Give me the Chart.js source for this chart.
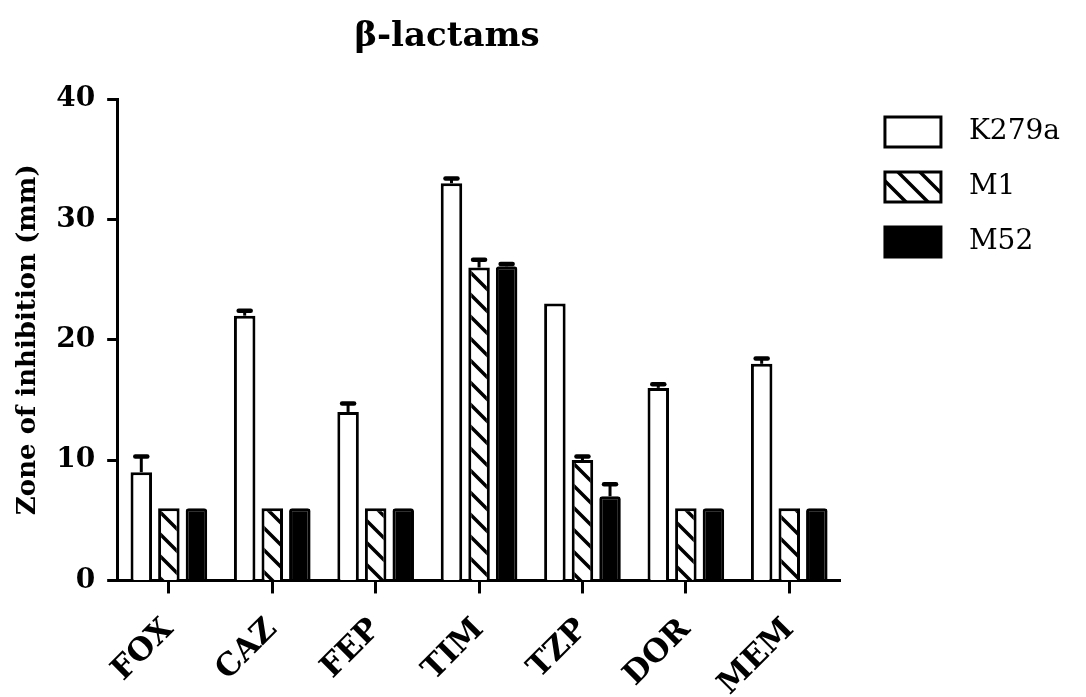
<!DOCTYPE html>
<html><head><meta charset="utf-8">
<script src="https://cdn.jsdelivr.net/npm/chart.js@4.4.1/dist/chart.umd.min.js"></script>
<style>html,body{margin:0;padding:0;background:#fff;}</style>
</head><body>
<canvas id="c" width="1086" height="697"></canvas>
<script>
const categories = ['FOX','CAZ','FEP','TIM','TZP','DOR','MEM'];
const seriesNames = ['K279a','M1','M52'];
const k279a = [9, 22, 14, 33, 23, 16, 18];
const m1    = [6, 6, 6, 26, 10, 6, 6];
const m52   = [6, 6, 6, 26.1, 7, 6, 6];
const k279aErr = [1.3, 0.4, 0.7, 0.4, 0, 0.3, 0.45];
const m1Err    = [0, 0, 0, 0.65, 0.3, 0, 0];
const m52Err   = [0, 0, 0, 0.2, 1.0, 0, 0];
const yTickValues = [0, 10, 20, 30, 40];
const chartTitle = 'β-lactams';
const yTitle = 'Zone of inhibition (mm)';

function hatch(){
  const s = 22, cv = document.createElement('canvas');
  cv.width = s; cv.height = s;
  const g = cv.getContext('2d');
  g.fillStyle = '#fff'; g.fillRect(0,0,s,s);
  g.strokeStyle = '#000'; g.lineWidth = 3.5;
  g.beginPath();
  g.moveTo(-3,-3); g.lineTo(s+3,s+3);
  g.moveTo(-3,s-3); g.lineTo(3,s+3);
  g.moveTo(s-3,-3); g.lineTo(s+3,3);
  g.stroke();
  return g.createPattern(cv,'repeat');
}

const errorBars = {
  id:'errorBars',
  afterDatasetsDraw(chart){
    const ctx = chart.ctx, ys = chart.scales.y;
    chart.data.datasets.forEach((ds,i)=>{
      const meta = chart.getDatasetMeta(i);
      meta.data.forEach((bar,j)=>{
        const e = ds.errors[j];
        if(!e) return;
        const top = ys.getPixelForValue(ds.data[j] + e);
        ctx.save();
        ctx.strokeStyle = '#000';
        ctx.lineWidth = 3;
        ctx.beginPath(); ctx.moveTo(bar.x, bar.y); ctx.lineTo(bar.x, top); ctx.stroke();
        ctx.lineWidth = 4.5; ctx.lineCap = 'round';
        ctx.beginPath(); ctx.moveTo(bar.x-6, top); ctx.lineTo(bar.x+6, top); ctx.stroke();
        ctx.restore();
      });
    });
  }
};

const titlePlugin = {
  id:'plotTitle',
  afterDraw(chart){
    const ctx = chart.ctx;
    ctx.save();
    ctx.font = 'bold 34px "DejaVu Serif"';
    ctx.fillStyle = '#000';
    ctx.textAlign = 'center';
    ctx.textBaseline = 'alphabetic';
    ctx.fillText(chartTitle, 447, 46);
    ctx.restore();
  }
};

Chart.defaults.font.family = '"DejaVu Serif", serif';
Chart.defaults.color = '#000';

const series = [k279a, m1, m52];
const errs = [k279aErr, m1Err, m52Err];
const fills = ['#fff', hatch(), '#000'];

new Chart(document.getElementById('c'), {
  type:'bar',
  data:{
    labels: categories,
    datasets: seriesNames.map((n,i)=>({
      label: n,
      data: series[i],
      errors: errs[i],
      backgroundColor: fills[i],
      borderColor: '#000',
      borderWidth: 3,
      borderRadius: i===2 ? 3 : 0,
      borderSkipped: 'start',
      categoryPercentage: 0.80,
      barPercentage: 0.78
    }))
  },
  options:{
    responsive:false,
    animation:false,
    devicePixelRatio:1,
    layout:{ padding:{ top:99, left:10, right:16, bottom:-24 } },
    plugins:{
      title:{ display:false },
      tooltip:{ enabled:false },
      legend:{
        position:'right',
        align:'start',
        maxWidth:300,
        title:{ display:true, text:'', font:{size:1}, padding:{top:-4, bottom:-4.2} },
        labels:{
          boxWidth:56, boxHeight:30, padding:25,
          font:{ size:28, family:'"DejaVu Serif", serif' },
          color:'#000',
          generateLabels(chart){
            const items = Chart.defaults.plugins.legend.labels.generateLabels(chart);
            items.forEach(it=>{ it.text = '\u2002' + it.text; });
            return items;
          }
        }
      }
    },
    scales:{
      x:{
        offset:true,
        grid:{ display:true, drawOnChartArea:false, offset:false, tickLength:13, tickWidth:3, tickColor:'#000' },
        border:{ display:true, color:'#000', width:3 },
        ticks:{ minRotation:45, maxRotation:45, padding:18, font:{ size:31, weight:'bold' }, color:'#000' }
      },
      y:{
        min:0, max:40,
        afterBuildTicks(s){ s.ticks = yTickValues.map(v=>({value:v})); },
        grid:{ display:true, drawOnChartArea:false, tickLength:10, tickWidth:3, tickColor:'#000' },
        border:{ display:true, color:'#000', width:3 },
        ticks:{ padding:12, font:{ size:28, weight:'bold' }, color:'#000' },
        title:{ display:true, text:yTitle, font:{ size:26, weight:'bold' }, color:'#000', padding:{top:3, bottom:0} }
      },
      yR:{
        position:'right', display:true,
        grid:{ display:false }, border:{ display:false }, ticks:{ display:false },
        afterFit(s){ s.width = 19; }
      }
    }
  },
  plugins:[errorBars, titlePlugin]
});
</script>
</body></html>
